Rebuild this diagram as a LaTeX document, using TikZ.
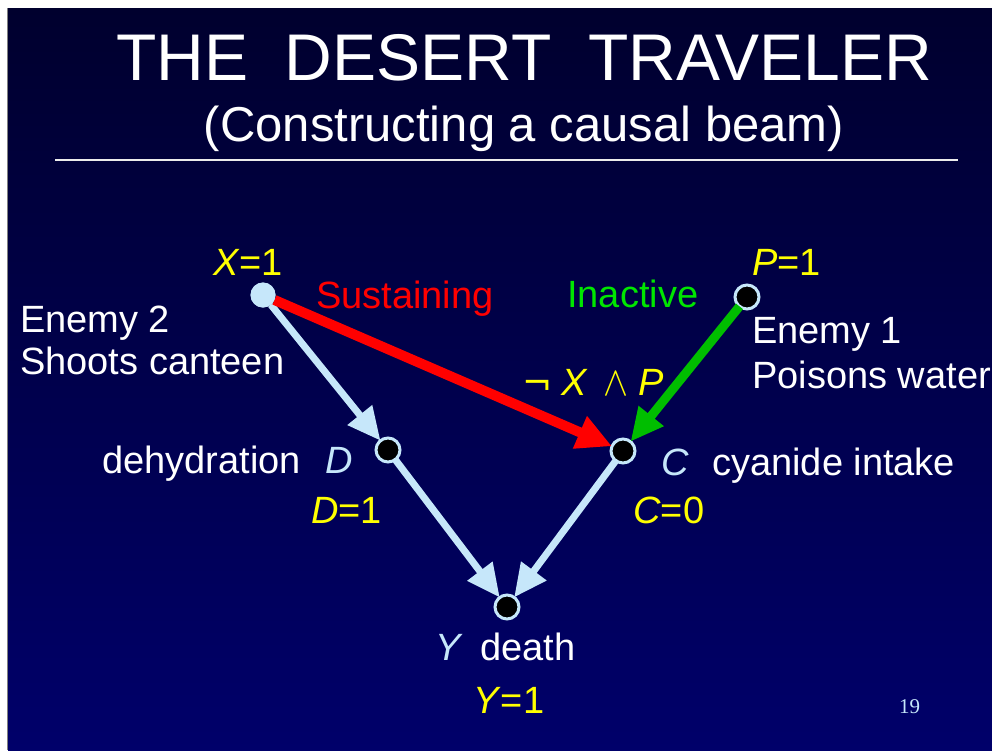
\documentclass[tikz,border=0pt]{standalone}
\usepackage{fontspec}
\setmainfont{Liberation Sans}
\newfontfamily\djv{DejaVu Sans}
\newfontfamily\sernum{Liberation Serif}
\usetikzlibrary{arrows.meta}
\definecolor{lb}{RGB}{198,231,250}
\definecolor{yel}{RGB}{255,255,0}
\definecolor{grn}{RGB}{0,230,0}
\definecolor{grnarr}{RGB}{0,190,0}
\definecolor{bgtop}{RGB}{0,0,46}
\definecolor{bgbot}{RGB}{0,0,106}
\begin{document}
\begin{tikzpicture}[x=1pt,y=-1pt,
  ring/.style={circle,draw=lb,fill=black,line width=3pt,minimum size=24pt,inner sep=0pt,outer sep=0pt},
  dot/.style={circle,fill=lb,minimum size=25pt,inner sep=0pt,outer sep=0pt},
  lab/.style={inner sep=0pt,anchor=base west,font=\fontsize{38}{44}\selectfont},
  lbarrow/.style={draw=lb,line width=7pt,-{Triangle[length=33pt,width=30pt]}},
  redarrow/.style={draw=red,line width=10pt,-{Triangle[length=35pt,width=33pt]}},
  grnarrow/.style={draw=grnarr,line width=9pt,-{Triangle[length=33pt,width=30pt]}}]
\useasboundingbox (0,0) rectangle (992,750);
\fill[white] (0,0) rectangle (992,750);
\shade[top color=bgtop,bottom color=bgbot] (8,8) rectangle (992,750);
\draw[gray,line width=1pt] (7.5,8) -- (7.5,750);
% title
\node[inner sep=0pt,anchor=base,text=white,font=\fontsize{66}{70}\selectfont] (title) at (524,80) {THE\ \ DESERT\ \ TRAVELER};
\node[inner sep=0pt,anchor=base,text=white,font=\fontsize{49}{54}\selectfont] (subtitle) at (524,141) {(Constructing a causal beam)};
\coordinate (rl) at (55,160);
\coordinate (rr) at (958,160);
\draw[white!85!gray,line width=1.5pt] (rl) -- (rr);
% nodes
\node[dot] (X) at (263,295) {};
\node[ring] (P) at (747,297) {};
\node[ring] (D) at (388,450) {};
\node[ring] (C) at (623,451) {};
\node[ring] (Y) at (507,607) {};
% arrows
\draw[lbarrow] (X) -- (D);
\draw[lbarrow] (D) -- (Y);
\draw[lbarrow] (C) -- (Y);
\draw[redarrow] (X) -- (C);
\draw[grnarrow] (P) -- (C);
\node[dot] at (X) {};
% labels
\node[lab,text=yel] (xl) at (213,275) {\textit{X}=1};
\node[lab,text=red] (sus) at (316,308) {Sustaining};
\node[lab,text=grn] (ina) at (567,307) {Inactive};
\node[lab,text=yel] (pl) at (752,275) {\textit{P}=1};
\node[lab,text=white] (e2a) at (20,332) {Enemy 2};
\node[lab,text=white] (e2b) at (20,374) {Shoots canteen};
\node[lab,text=white] (e1a) at (752,343) {Enemy 1};
\node[lab,text=white] (e1b) at (752,388) {Poisons water};
\node[lab,text=yel,font=\djv\fontsize{36}{40}\selectfont] (neg) at (522,395) {¬};
\node[lab,text=yel] (nx) at (561,395) {\textit{X}};
\node[lab,text=yel] (and) at (603,395) {\resizebox{25pt}{23pt}{$\wedge$}};
\node[lab,text=yel] (np) at (638,395) {\textit{P}};
\node[lab,text=white] (deh) at (102,473) {dehydration};
\node[lab,text=lb] (dl) at (325,473) {\textit{D}};
\node[lab,text=yel] (d1) at (311,523) {\textit{D}=1};
\node[lab,text=lb] (cl) at (661,475) {\textit{C}};
\node[lab,text=white] (cy) at (712,475) {cyanide intake};
\node[lab,text=yel] (c0) at (633,523) {\textit{C}=0};
\node[lab,text=lb] (yl) at (435,660) {\textit{Y}};
\node[lab,text=white] (dea) at (480,660) {death};
\node[lab,text=yel] (y1) at (473,713) {\textit{Y}=1};
\node[inner sep=0pt,anchor=base west,text=lb,font=\sernum\fontsize{21}{24}\selectfont] (pg) at (899,713) {19};
\end{tikzpicture}
\end{document}
